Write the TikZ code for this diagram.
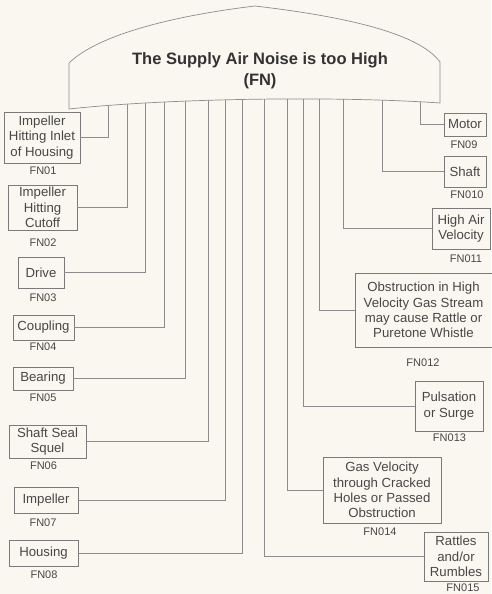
\documentclass[tikz,border=0pt]{standalone}
\usepackage{fontspec}
\setmainfont{Liberation Sans}
\begin{document}
\begin{tikzpicture}[x=1pt,y=-1pt,
  box/.style={draw=boxgray,line width=0.8pt,inner sep=0pt,align=center,text=txtgray,
    font=\fontsize{13.2}{15.4}\selectfont},
  code/.style={text=txtgray,inner sep=0pt,font=\fontsize{11}{13}\selectfont},
  conn/.style={draw=linegray,line width=0.7pt},
  dome/.style={draw=linegray,line width=0.7pt,fill=bg}]
\definecolor{bg}{HTML}{F9F7EF}
\definecolor{linegray}{HTML}{8C8C8C}
\definecolor{boxgray}{HTML}{7A7A7A}
\definecolor{txtgray}{HTML}{474747}
\definecolor{titlegray}{HTML}{333333}
\useasboundingbox[fill=bg] (0,0) rectangle (491,594);

% cause boxes, left column
\node[box,minimum width=76,minimum height=51] (b01) at (42,137.5) {Impeller\\Hitting Inlet\\of Housing};
\node[box,minimum width=69,minimum height=45] (b02) at (42.5,207.5) {Impeller\\Hitting\\Cutoff};
\node[box,minimum width=46,minimum height=31] (b03) at (41,272.5) {Drive};
\node[box,minimum width=61,minimum height=25] (b04) at (43.5,327.5) {Coupling};
\node[box,minimum width=60,minimum height=23] (b05) at (43,378.5) {Bearing};
\node[box,minimum width=77,minimum height=33] (b06) at (47.5,441.5) {Shaft Seal\\Squel};
\node[box,minimum width=64,minimum height=26] (b07) at (46,500) {Impeller};
\node[box,minimum width=69,minimum height=26] (b08) at (43.5,553) {Housing};

% cause boxes, right column
\node[box,minimum width=42,minimum height=23] (b09) at (465,124.5) {Motor};
\node[box,minimum width=42,minimum height=31] (b10) at (465,171.5) {Shaft};
\node[box,minimum width=58,minimum height=41] (b11) at (461,228.5) {High Air\\Velocity};
\node[box,minimum width=137,minimum height=74] (b12) at (423.5,310) {Obstruction in High\\Velocity Gas Stream\\may cause Rattle or\\Puretone Whistle};
\node[box,minimum width=68,minimum height=50] (b13) at (449,406) {Pulsation\\or Surge};
\node[box,minimum width=118,minimum height=66] (b14) at (382,490) {Gas Velocity\\through Cracked\\Holes or Passed\\Obstruction};
\node[box,minimum width=64,minimum height=49] (b15) at (456,556.5) {Rattles\\and/or\\Rumbles};

% codes
\node[code] (l01) at (43,171) {FN01};
\node[code] (l02) at (43,243) {FN02};
\node[code] (l03) at (43,298) {FN03};
\node[code] (l04) at (43,347) {FN04};
\node[code] (l05) at (43,398) {FN05};
\node[code] (l06) at (43.5,466) {FN06};
\node[code] (l07) at (43,523) {FN07};
\node[code] (l08) at (44,575) {FN08};
\node[code] (l09) at (464,145) {FN09};
\node[code] (l10) at (467,195) {FN010};
\node[code] (l11) at (466,259) {FN011};
\node[code] (l12) at (423,363) {FN012};
\node[code] (l13) at (449.5,438) {FN013};
\node[code] (l14) at (380,532) {FN014};
\node[code] (l15) at (463,587.5) {FN015};

% branch roots under the head
\foreach \n/\x in {01/108,02/127,03/145,04/164,05/185,06/208,07/225,08/242,
                   09/420,10/382,11/343,12/319,13/303,14/287,15/264}
  \coordinate (t\n) at (\x,95);

% connectors
\foreach \n in {01,02,03,04,05,06,07,08}
  \draw[conn] (t\n) |- (b\n.east);
\foreach \n in {09,10,11,12,13,14,15}
  \draw[conn] (t\n) |- (b\n.west);

% head shape, drawn last so it hides the tops of the connectors
\path[dome] (69,109) -- (69,63)
  .. controls (100,33) and (180,15) .. (255,6)
  .. controls (340,16) and (418,32) .. (440,62)
  -- (440,103)
  .. controls (340,96) and (170,98) .. (69,109) -- cycle;
\node[text=titlegray,align=center,font=\bfseries\fontsize{16.5}{21}\selectfont] (head) at (260,71)
  {The Supply Air Noise is too High\\(FN)};
\end{tikzpicture}
\end{document}
